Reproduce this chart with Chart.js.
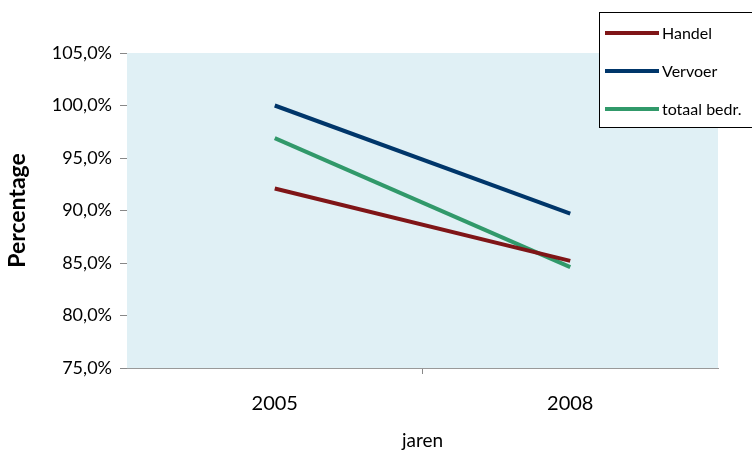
<!DOCTYPE html>
<html>
<head>
<meta charset="utf-8">
<script src="https://cdn.jsdelivr.net/npm/chart.js@4"></script>
<style>
html,body{margin:0;padding:0;background:#fff;}
#wrap{width:752px;height:456px;position:relative;}
</style>
</head>
<body>
<div id="wrap"><canvas id="c" width="752" height="456"></canvas></div>
<script>
const categories = ["2005", "2008"];
const handel = [92.1, 85.2];
const vervoer = [100.0, 89.7];
const totaal = [96.9, 84.6];
const seriesNames = ["Handel", "Vervoer", "totaal bedr."];
const yTickLabelsMin = 75, yTickLabelsMax = 105, yStep = 5;

const FONT = "Lato, 'DejaVu Sans', sans-serif";

const plotBg = {
  id: 'plotBg',
  beforeDatasetsDraw(chart) {
    const {ctx, chartArea: a} = chart;
    ctx.save();
    ctx.fillStyle = '#E0F0F5';
    ctx.fillRect(a.left, a.top, a.right - a.left, a.bottom - a.top);
    ctx.restore();
  }
};

const boxLegend = {
  id: 'boxLegend',
  afterDraw(chart) {
    const ctx = chart.ctx;
    ctx.save();
    ctx.fillStyle = '#fff';
    ctx.fillRect(599.5, 12.5, 160, 115);
    ctx.strokeStyle = '#000';
    ctx.lineWidth = 1;
    ctx.strokeRect(599.5, 12.5, 160, 115);
    const rows = [33, 71, 109];
    chart.data.datasets.forEach((ds, i) => {
      ctx.strokeStyle = ds.borderColor;
      ctx.lineWidth = 4;
      ctx.beginPath();
      ctx.moveTo(605, rows[i]);
      ctx.lineTo(659, rows[i]);
      ctx.stroke();
      ctx.fillStyle = '#000';
      ctx.font = '16px ' + FONT;
      ctx.textBaseline = 'middle';
      ctx.fillText(ds.label, 662, rows[i] + 1);
    });
    ctx.restore();
  }
};

new Chart(document.getElementById('c'), {
  type: 'line',
  data: {
    labels: categories,
    datasets: [
      {label: seriesNames[0], data: handel, borderColor: '#7F1517', borderWidth: 4, pointRadius: 0, fill: false, tension: 0},
      {label: seriesNames[1], data: vervoer, borderColor: '#00366A', borderWidth: 4, pointRadius: 0, fill: false, tension: 0},
      {label: seriesNames[2], data: totaal, borderColor: '#31996A', borderWidth: 4, pointRadius: 0, fill: false, tension: 0}
    ]
  },
  options: {
    responsive: false,
    animation: false,
    devicePixelRatio: 1,
    layout: {padding: {left: 0, right: 34, top: 53, bottom: 0}},
    plugins: {legend: {display: false}, tooltip: {enabled: false}},
    scales: {
      x: {
        type: 'category',
        offset: true,
        grid: {offset: true, drawOnChartArea: false, drawTicks: true, tickLength: 6,
          color: c => (c.index === 1 ? '#888' : 'rgba(0,0,0,0)')},
        border: {color: '#999', width: 1},
        ticks: {font: {family: FONT, size: 20}, color: '#000', padding: 18},
        title: {display: true, text: 'jaren', font: {family: FONT, size: 19}, color: '#000', padding: {top: 10}},
        afterFit(s) { s.height = 88; }
      },
      y: {
        min: yTickLabelsMin, max: yTickLabelsMax,
        ticks: {stepSize: yStep, font: {family: FONT, size: 18}, color: '#000', padding: 8,
          callback: v => v.toFixed(1).replace('.', ',') + '%'},
        grid: {drawOnChartArea: false, drawTicks: true, tickLength: 7, color: '#888'},
        border: {color: '#999', width: 1},
        title: {display: true, text: 'Percentage', font: {family: FONT, size: 23, weight: 'bold'}, color: '#000', padding: {top: 4, bottom: 0}},
        afterFit(s) { s.width = 127; }
      }
    }
  },
  plugins: [plotBg, boxLegend]
});
</script>
</body>
</html>
